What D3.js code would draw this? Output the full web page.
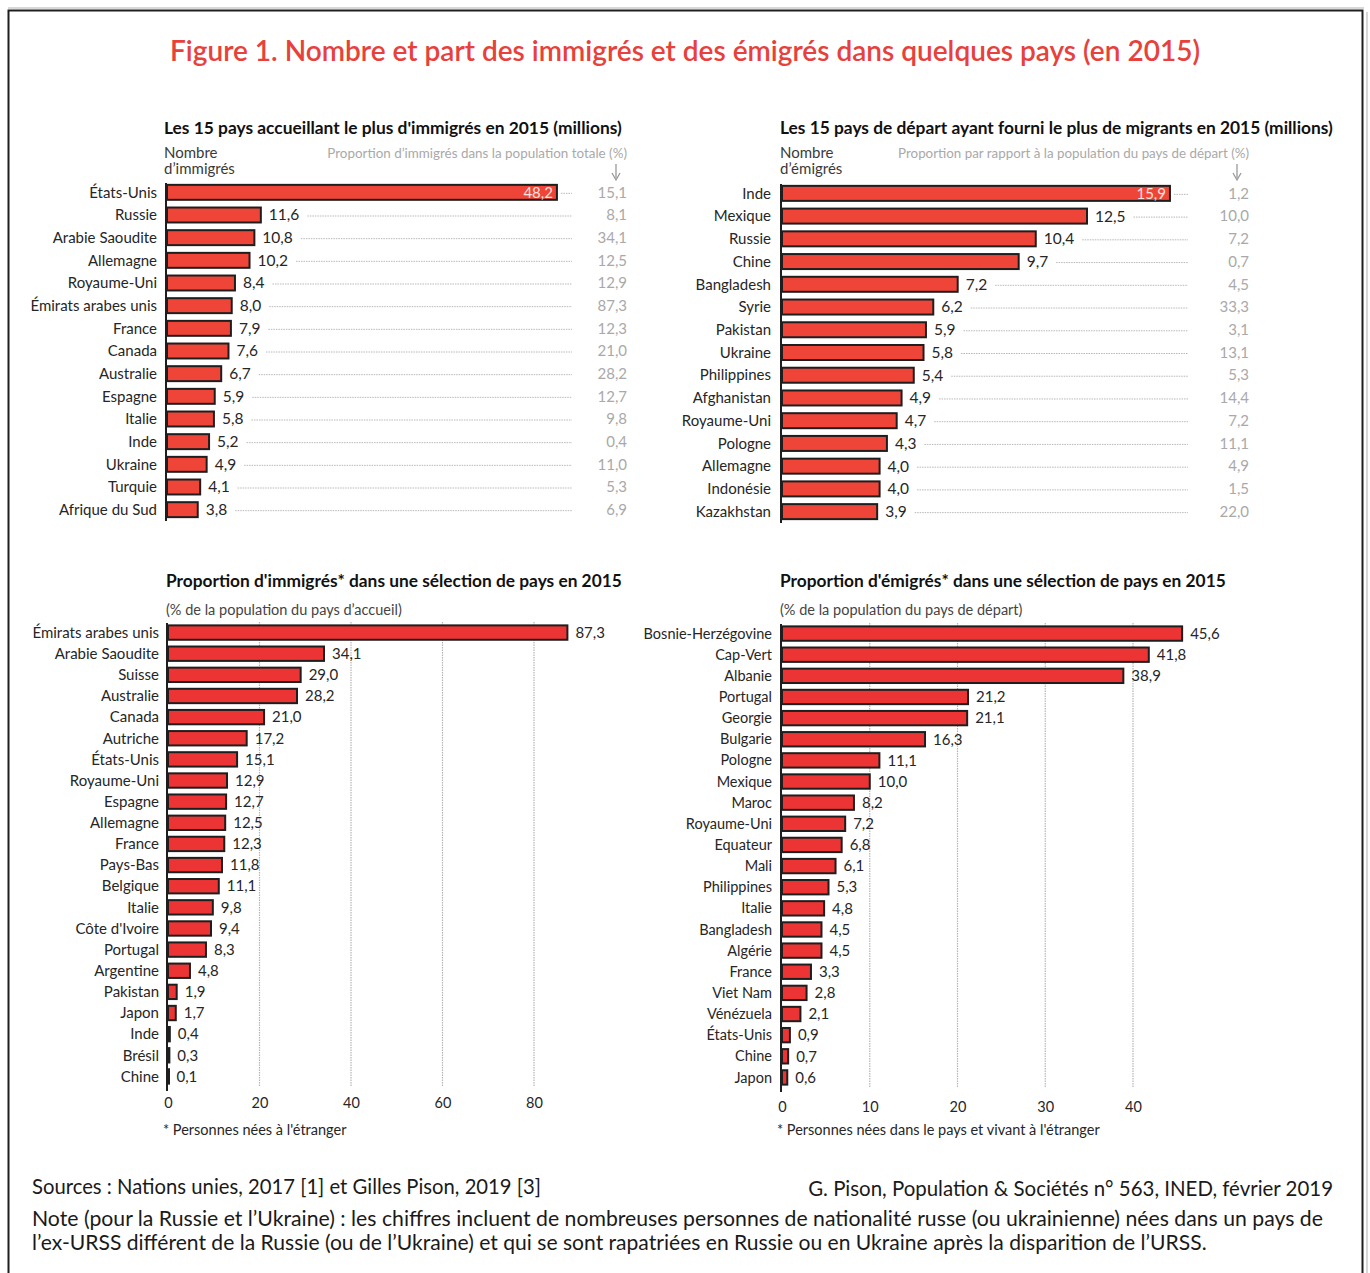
<!DOCTYPE html>
<html>
<head>
<meta charset="utf-8">
<script src="https://cdn.jsdelivr.net/npm/d3@7"></script>
<style>
  body { margin: 0; background: #fff; }
  svg { display: block; font-family: Lato, "Open Sans", sans-serif; }
</style>
</head>
<body>
<div id="chart"></div>
<script>
// ---- data ----
const immCountries = ['États-Unis', 'Russie', 'Arabie Saoudite', 'Allemagne', 'Royaume-Uni', 'Émirats arabes unis', 'France', 'Canada', 'Australie', 'Espagne', 'Italie', 'Inde', 'Ukraine', 'Turquie', 'Afrique du Sud'];
const immMillions = [48.2, 11.6, 10.8, 10.2, 8.4, 8.0, 7.9, 7.6, 6.7, 5.9, 5.8, 5.2, 4.9, 4.1, 3.8];
const immShare = [15.1, 8.1, 34.1, 12.5, 12.9, 87.3, 12.3, 21.0, 28.2, 12.7, 9.8, 0.4, 11.0, 5.3, 6.9];

const emiCountries = ['Inde', 'Mexique', 'Russie', 'Chine', 'Bangladesh', 'Syrie', 'Pakistan', 'Ukraine', 'Philippines', 'Afghanistan', 'Royaume-Uni', 'Pologne', 'Allemagne', 'Indonésie', 'Kazakhstan'];
const emiMillions = [15.9, 12.5, 10.4, 9.7, 7.2, 6.2, 5.9, 5.8, 5.4, 4.9, 4.7, 4.3, 4.0, 4.0, 3.9];
const emiShare = [1.2, 10.0, 7.2, 0.7, 4.5, 33.3, 3.1, 13.1, 5.3, 14.4, 7.2, 11.1, 4.9, 1.5, 22.0];

const propImmCountries = ['Émirats arabes unis', 'Arabie Saoudite', 'Suisse', 'Australie', 'Canada', 'Autriche', 'États-Unis', 'Royaume-Uni', 'Espagne', 'Allemagne', 'France', 'Pays-Bas', 'Belgique', 'Italie', "Côte d'Ivoire", 'Portugal', 'Argentine', 'Pakistan', 'Japon', 'Inde', 'Brésil', 'Chine'];
const propImmValues = [87.3, 34.1, 29.0, 28.2, 21.0, 17.2, 15.1, 12.9, 12.7, 12.5, 12.3, 11.8, 11.1, 9.8, 9.4, 8.3, 4.8, 1.9, 1.7, 0.4, 0.3, 0.1];
const propImmTicks = [0, 20, 40, 60, 80];

const propEmiCountries = ['Bosnie-Herzégovine', 'Cap-Vert', 'Albanie', 'Portugal', 'Georgie', 'Bulgarie', 'Pologne', 'Mexique', 'Maroc', 'Royaume-Uni', 'Equateur', 'Mali', 'Philippines', 'Italie', 'Bangladesh', 'Algérie', 'France', 'Viet Nam', 'Vénézuela', 'États-Unis', 'Chine', 'Japon'];
const propEmiValues = [45.6, 41.8, 38.9, 21.2, 21.1, 16.3, 11.1, 10.0, 8.2, 7.2, 6.8, 6.1, 5.3, 4.8, 4.5, 4.5, 3.3, 2.8, 2.1, 0.9, 0.7, 0.6];
const propEmiTicks = [0, 10, 20, 30, 40];

const COL = {
  red: '#e8403a',
  barTop: '#ef4538',
  barBottom: '#ec3434',
  ink: '#1e1e1e',
  text: '#262626',
  light: '#a9a9a9',
  leader: '#b8b8b8',
  grid: '#b5b5b5',
};

const fmt = (v) => d3.format('.1f')(v).replace('.', ',');

const W = 1370, H = 1273;
const svg = d3.select('#chart').append('svg').attr('width', W).attr('height', H);

// frame
svg.append('line').attr('x1', 8).attr('x2', 1364).attr('y1', 8).attr('y2', 8)
  .attr('stroke', '#d8d8d8').attr('stroke-width', 2);
svg.append('line').attr('x1', 1367).attr('x2', 1367).attr('y1', 12).attr('y2', H)
  .attr('stroke', '#d8d8d8').attr('stroke-width', 2);
svg.append('rect').attr('x', 8.5).attr('y', 10.5).attr('width', 1354).attr('height', 1300)
  .attr('fill', 'none').attr('stroke', COL.ink).attr('stroke-width', 2);

// fit a text element to a given width by adjusting its font size
function fitWidth(sel, target) {
  const w = sel.node().getComputedTextLength();
  const fs = parseFloat(sel.attr('font-size'));
  sel.attr('font-size', (fs * target / w).toFixed(2));
  return sel;
}

fitWidth(svg.append('text').attr('x', 685).attr('y', 61).attr('text-anchor', 'middle')
  .attr('font-size', 27).attr('font-weight', 600).attr('fill', COL.red)
  .text('Figure 1. Nombre et part des immigrés et des émigrés dans quelques pays (en 2015)'), 1030);

// ---- top panels: counts with share column ----
function topPanel(cfg) {
  const g = svg.append('g');
  const y = d3.scaleBand().domain(cfg.countries).range(cfg.yRange).paddingInner(0.34).paddingOuter(0.17);
  const x = d3.scaleLinear().domain([0, cfg.xMax]).range([cfg.x0, cfg.x1]);

  fitWidth(g.append('text').attr('x', cfg.titleX).attr('y', 134).attr('font-size', 17)
    .attr('font-weight', 700).attr('fill', '#111').text(cfg.title), cfg.titleW);

  const hdr = g.append('text').attr('x', cfg.titleX).attr('font-size', 15).attr('fill', '#3a3a3a');
  hdr.append('tspan').attr('x', cfg.titleX).attr('y', 158).text('Nombre');
  hdr.append('tspan').attr('x', cfg.titleX).attr('y', 174).text(cfg.unitLine);

  fitWidth(g.append('text').attr('x', cfg.shareX).attr('y', 158).attr('text-anchor', 'end')
    .attr('font-size', 14).attr('fill', COL.light).text(cfg.shareTitle), cfg.shareW);
  g.append('line').attr('x1', cfg.arrowX).attr('x2', cfg.arrowX).attr('y1', 164).attr('y2', 178)
    .attr('stroke', '#999').attr('stroke-width', 1.3);
  g.append('path').attr('d', `M${cfg.arrowX - 4},${173} L${cfg.arrowX},${180} L${cfg.arrowX + 4},${173}`)
    .attr('fill', 'none').attr('stroke', '#999').attr('stroke-width', 1.3);

  const rows = g.selectAll('.row').data(cfg.countries.map((c, i) => ({ c, v: cfg.values[i], s: cfg.share[i] })))
    .join('g').attr('class', 'row');

  rows.append('rect')
    .attr('x', x(0)).attr('y', (d) => y(d.c))
    .attr('width', (d) => x(d.v) - x(0)).attr('height', y.bandwidth())
    .attr('fill', COL.barTop).attr('stroke', COL.ink).attr('stroke-width', 2);

  rows.append('text').attr('x', cfg.labelX).attr('y', (d) => y(d.c) + y.bandwidth() / 2)
    .attr('dy', '0.35em').attr('text-anchor', 'end').attr('font-size', 15).attr('fill', COL.text)
    .text((d) => d.c);

  rows.each(function (d, i) {
    const r = d3.select(this);
    let leaderStart;
    if (i === 0) {
      r.append('text').attr('x', x(d.v) - 4).attr('y', y(d.c) + y.bandwidth() / 2).attr('dy', '0.35em')
        .attr('text-anchor', 'end').attr('font-size', 15).attr('fill', '#fde3df').text(fmt(d.v));
      leaderStart = x(d.v) + 4;
    } else {
      const t = r.append('text').attr('x', x(d.v) + 8).attr('y', y(d.c) + y.bandwidth() / 2).attr('dy', '0.35em')
        .attr('font-size', 15.5).attr('fill', COL.text).text(fmt(d.v));
      leaderStart = x(d.v) + 8 + t.node().getComputedTextLength() + 8;
    }
    r.append('line').attr('x1', leaderStart).attr('x2', cfg.leaderEnd)
      .attr('y1', y(d.c) + y.bandwidth() / 2 + 1).attr('y2', y(d.c) + y.bandwidth() / 2 + 1)
      .attr('stroke', COL.leader).attr('stroke-width', 1).attr('stroke-dasharray', '1.5,1');
    r.append('text').attr('x', cfg.shareX).attr('y', y(d.c) + y.bandwidth() / 2).attr('dy', '0.35em')
      .attr('text-anchor', 'end').attr('font-size', 15).attr('fill', COL.light).text(fmt(d.s));
  });

  g.append('line').attr('x1', x(0) - 1).attr('x2', x(0) - 1)
    .attr('y1', cfg.yRange[0] + 2).attr('y2', cfg.yRange[1])
    .attr('stroke', COL.ink).attr('stroke-width', 2);
}

topPanel({
  title: "Les 15 pays accueillant le plus d'immigrés en 2015 (millions)", titleX: 164, titleW: 458,
  unitLine: 'd’immigrés',
  shareTitle: 'Proportion d’immigrés dans la population totale (%)', shareX: 627, shareW: 300, arrowX: 616,
  countries: immCountries, values: immMillions, share: immShare,
  yRange: [181, 521], xMax: 50, x0: 167, x1: 571.5, labelX: 157, leaderEnd: 572,
});

topPanel({
  title: 'Les 15 pays de départ ayant fourni le plus de migrants en 2015 (millions)', titleX: 780, titleW: 553,
  unitLine: 'd’émigrés',
  shareTitle: 'Proportion par rapport à la population du pays de départ (%)', shareX: 1249, shareW: 351, arrowX: 1237,
  countries: emiCountries, values: emiMillions, share: emiShare,
  yRange: [182, 523], xMax: 16, x0: 782, x1: 1172.4, labelX: 771, leaderEnd: 1188,
});

// ---- bottom panels: shares with gridded axis ----
function bottomPanel(cfg) {
  const g = svg.append('g');
  const y = d3.scaleBand().domain(cfg.countries).range(cfg.yRange).paddingInner(0.32).paddingOuter(0.16);
  const x = d3.scaleLinear().domain([0, cfg.tickMax]).range([cfg.x0, cfg.x1]);

  fitWidth(g.append('text').attr('x', cfg.titleX).attr('y', 587).attr('font-size', 17)
    .attr('font-weight', 700).attr('fill', '#111').text(cfg.title), cfg.titleW);
  g.append('text').attr('x', cfg.titleX).attr('y', 615).attr('font-size', 14.5).attr('fill', '#444')
    .text(cfg.subtitle);

  g.selectAll('.grid').data(cfg.ticks.slice(1)).join('line').attr('class', 'grid')
    .attr('x1', (d) => x(d)).attr('x2', (d) => x(d))
    .attr('y1', cfg.yRange[0]).attr('y2', cfg.yRange[1])
    .attr('stroke', COL.grid).attr('stroke-width', 1.2).attr('stroke-dasharray', '1.5,1');

  const axis = g.append('g').attr('transform', `translate(0,${cfg.tickY})`)
    .call(d3.axisBottom(x).tickValues(cfg.ticks).tickSize(0).tickPadding(0).tickFormat(d3.format('d')));
  axis.select('.domain').remove();
  axis.selectAll('text').attr('font-size', 14.5).attr('fill', COL.text).attr('font-family', 'Lato, sans-serif');

  const data = cfg.countries.map((c, i) => ({ c, v: cfg.values[i] }));
  g.selectAll('.bar').data(data).join('rect').attr('class', 'bar')
    .attr('x', x(0)).attr('y', (d) => y(d.c))
    .attr('width', (d) => Math.max(1, x(d.v) - x(0))).attr('height', y.bandwidth())
    .attr('fill', COL.barBottom).attr('stroke', COL.ink).attr('stroke-width', 2);

  g.selectAll('.lab').data(data).join('text').attr('class', 'lab')
    .attr('x', cfg.labelX).attr('y', (d) => y(d.c) + y.bandwidth() / 2).attr('dy', '0.35em')
    .attr('text-anchor', 'end').attr('font-size', cfg.labelSize).attr('fill', COL.text).text((d) => d.c);

  g.selectAll('.val').data(data).join('text').attr('class', 'val')
    .attr('x', (d) => x(d.v) + 8).attr('y', (d) => y(d.c) + y.bandwidth() / 2).attr('dy', '0.35em')
    .attr('font-size', 15).attr('fill', COL.text).text((d) => fmt(d.v));

  g.append('line').attr('x1', x(0) - 1).attr('x2', x(0) - 1)
    .attr('y1', cfg.yRange[0] + 1).attr('y2', cfg.yRange[1] + 4)
    .attr('stroke', COL.ink).attr('stroke-width', 2);

  g.append('text').attr('x', cfg.noteX).attr('y', 1135).attr('font-size', 14.5).attr('fill', COL.text)
    .text(cfg.note);
}

bottomPanel({
  title: "Proportion d'immigrés* dans une sélection de pays en 2015", titleX: 166, titleW: 456,
  subtitle: '(% de la population du pays d’accueil)',
  countries: propImmCountries, values: propImmValues, ticks: propImmTicks, tickMax: 80,
  x0: 168, x1: 534, yRange: [622, 1087], labelX: 159, labelSize: 15, tickY: 1098,
  note: "* Personnes nées à l'étranger", noteX: 163,
});

bottomPanel({
  title: "Proportion d'émigrés* dans une sélection de pays en 2015", titleX: 780, titleW: 446,
  subtitle: '(% de la population du pays de départ)',
  countries: propEmiCountries, values: propEmiValues, ticks: propEmiTicks, tickMax: 40,
  x0: 782, x1: 1133, yRange: [623, 1088], labelX: 772, labelSize: 14.5, tickY: 1102,
  note: "* Personnes nées dans le pays et vivant à l'étranger", noteX: 777,
});

// ---- footer ----
fitWidth(svg.append('text').attr('x', 32).attr('y', 1194).attr('font-size', 20).attr('fill', '#1a1a1a')
  .text('Sources : Nations unies, 2017 [1] et Gilles Pison, 2019 [3]'), 509);
fitWidth(svg.append('text').attr('x', 1333).attr('y', 1196).attr('font-size', 20).attr('fill', '#1a1a1a')
  .attr('text-anchor', 'end')
  .text('G. Pison, Population & Sociétés n° 563, INED, février 2019'), 525);
fitWidth(svg.append('text').attr('x', 32).attr('y', 1226).attr('font-size', 20).attr('fill', '#1a1a1a')
  .text('Note (pour la Russie et l’Ukraine) : les chiffres incluent de nombreuses personnes de nationalité russe (ou ukrainienne) nées dans un pays de'), 1291);
fitWidth(svg.append('text').attr('x', 32).attr('y', 1250).attr('font-size', 20).attr('fill', '#1a1a1a')
  .text('l’ex-URSS différent de la Russie (ou de l’Ukraine) et qui se sont rapatriées en Russie ou en Ukraine après la disparition de l’URSS.'), 1175);
</script>
</body>
</html>
